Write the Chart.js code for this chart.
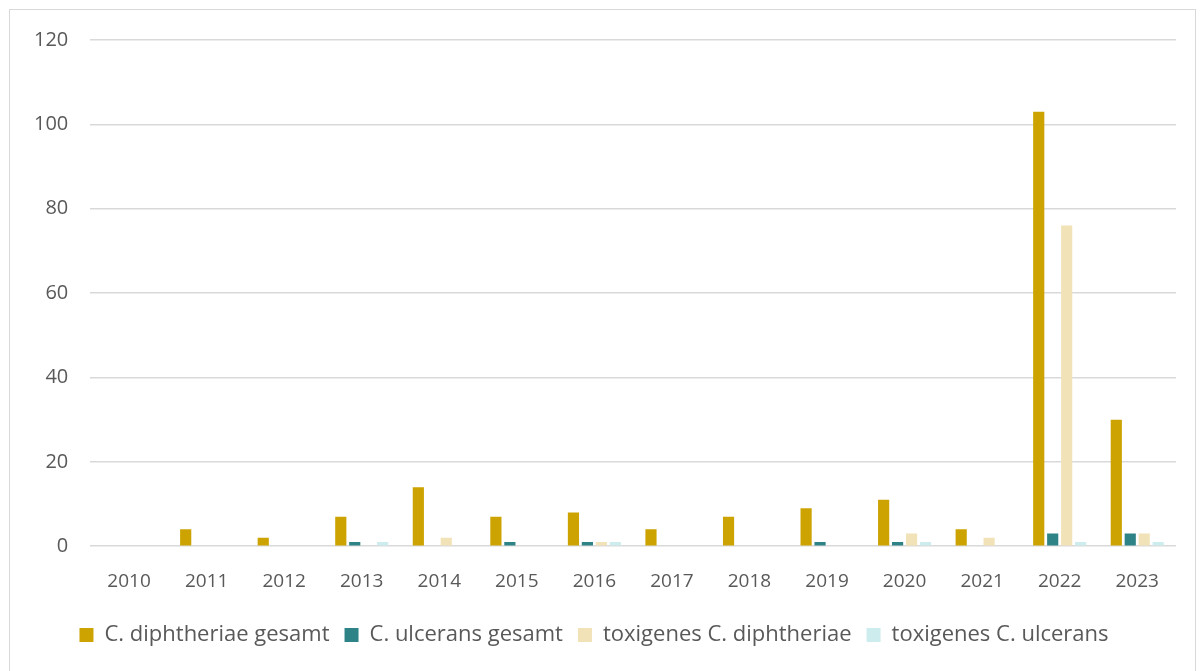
<!DOCTYPE html>
<html>
<head>
<meta charset="utf-8">
<script src="https://cdn.jsdelivr.net/npm/chart.js@4"></script>
<style>
  body { margin: 0; background: #fff; }
  #frame {
    position: absolute; left: 9px; top: 9px; width: 1187px; height: 680px;
    border: 1px solid #d9d9d9; box-sizing: border-box;
  }
  #wrap { position: absolute; left: 10px; top: 6px; width: 1186px; height: 665px; }
</style>
</head>
<body>
<div id="frame"></div>
<div id="wrap"><canvas id="chart"></canvas></div>
<script>
// years on the x axis
const years = ['2010', '2011', '2012', '2013', '2014', '2015', '2016', '2017', '2018', '2019', '2020', '2021', '2022', '2023'];

// case counts per year
const diphGesamt   = [0, 4, 2, 7, 14, 7, 8, 4, 7, 9, 11, 4, 103, 30];
const ulceransGes  = [0, 0, 0, 1, 0, 1, 1, 0, 0, 1, 1, 0, 3, 3];
const toxDiph      = [0, 0, 0, 0, 2, 0, 1, 0, 0, 0, 3, 2, 76, 3];
const toxUlcerans  = [0, 0, 0, 1, 0, 0, 1, 0, 0, 0, 1, 0, 1, 1];

const seriesNames = ['C. diphtheriae gesamt', 'C. ulcerans gesamt', 'toxigenes C. diphtheriae', 'toxigenes C. ulcerans'];
const colours = ['#cca300', '#2e8387', '#f2e2b8', '#cdecee'];

const textCol = '#595959';
const fontFam = '"Open Sans", "Noto Sans", sans-serif';

const ctx = document.getElementById('chart').getContext('2d');
new Chart(ctx, {
  type: 'bar',
  data: {
    labels: years,
    datasets: [diphGesamt, ulceransGes, toxDiph, toxUlcerans].map((d, i) => ({
      label: seriesNames[i],
      data: d,
      backgroundColor: colours[i],
      borderWidth: 0,
      categoryPercentage: 0.72,
      barPercentage: 0.8,
    })),
  },
  options: {
    responsive: true,
    maintainAspectRatio: false,
    animation: false,
    layout: { padding: { left: 2, right: 20, top: 0, bottom: 15 } },
    plugins: {
      tooltip: { enabled: false },
      legend: {
        position: 'bottom',
        labels: {
          boxWidth: 14,
          boxHeight: 14,
          padding: 15,
          color: textCol,
          font: { family: fontFam, size: 22 },
        },
      },
    },
    scales: {
      x: {
        grid: { display: false },
        border: { display: false },
        ticks: { color: textCol, font: { family: fontFam, size: 19 }, padding: 16 },
      },
      y: {
        min: 0,
        max: 120,
        ticks: { stepSize: 20, color: textCol, font: { family: fontFam, size: 20 }, padding: 22 },
        grid: { color: '#d9d9d9', lineWidth: 1.5, drawTicks: false },
        border: { display: false },
      },
    },
  },
});
</script>
</body>
</html>
